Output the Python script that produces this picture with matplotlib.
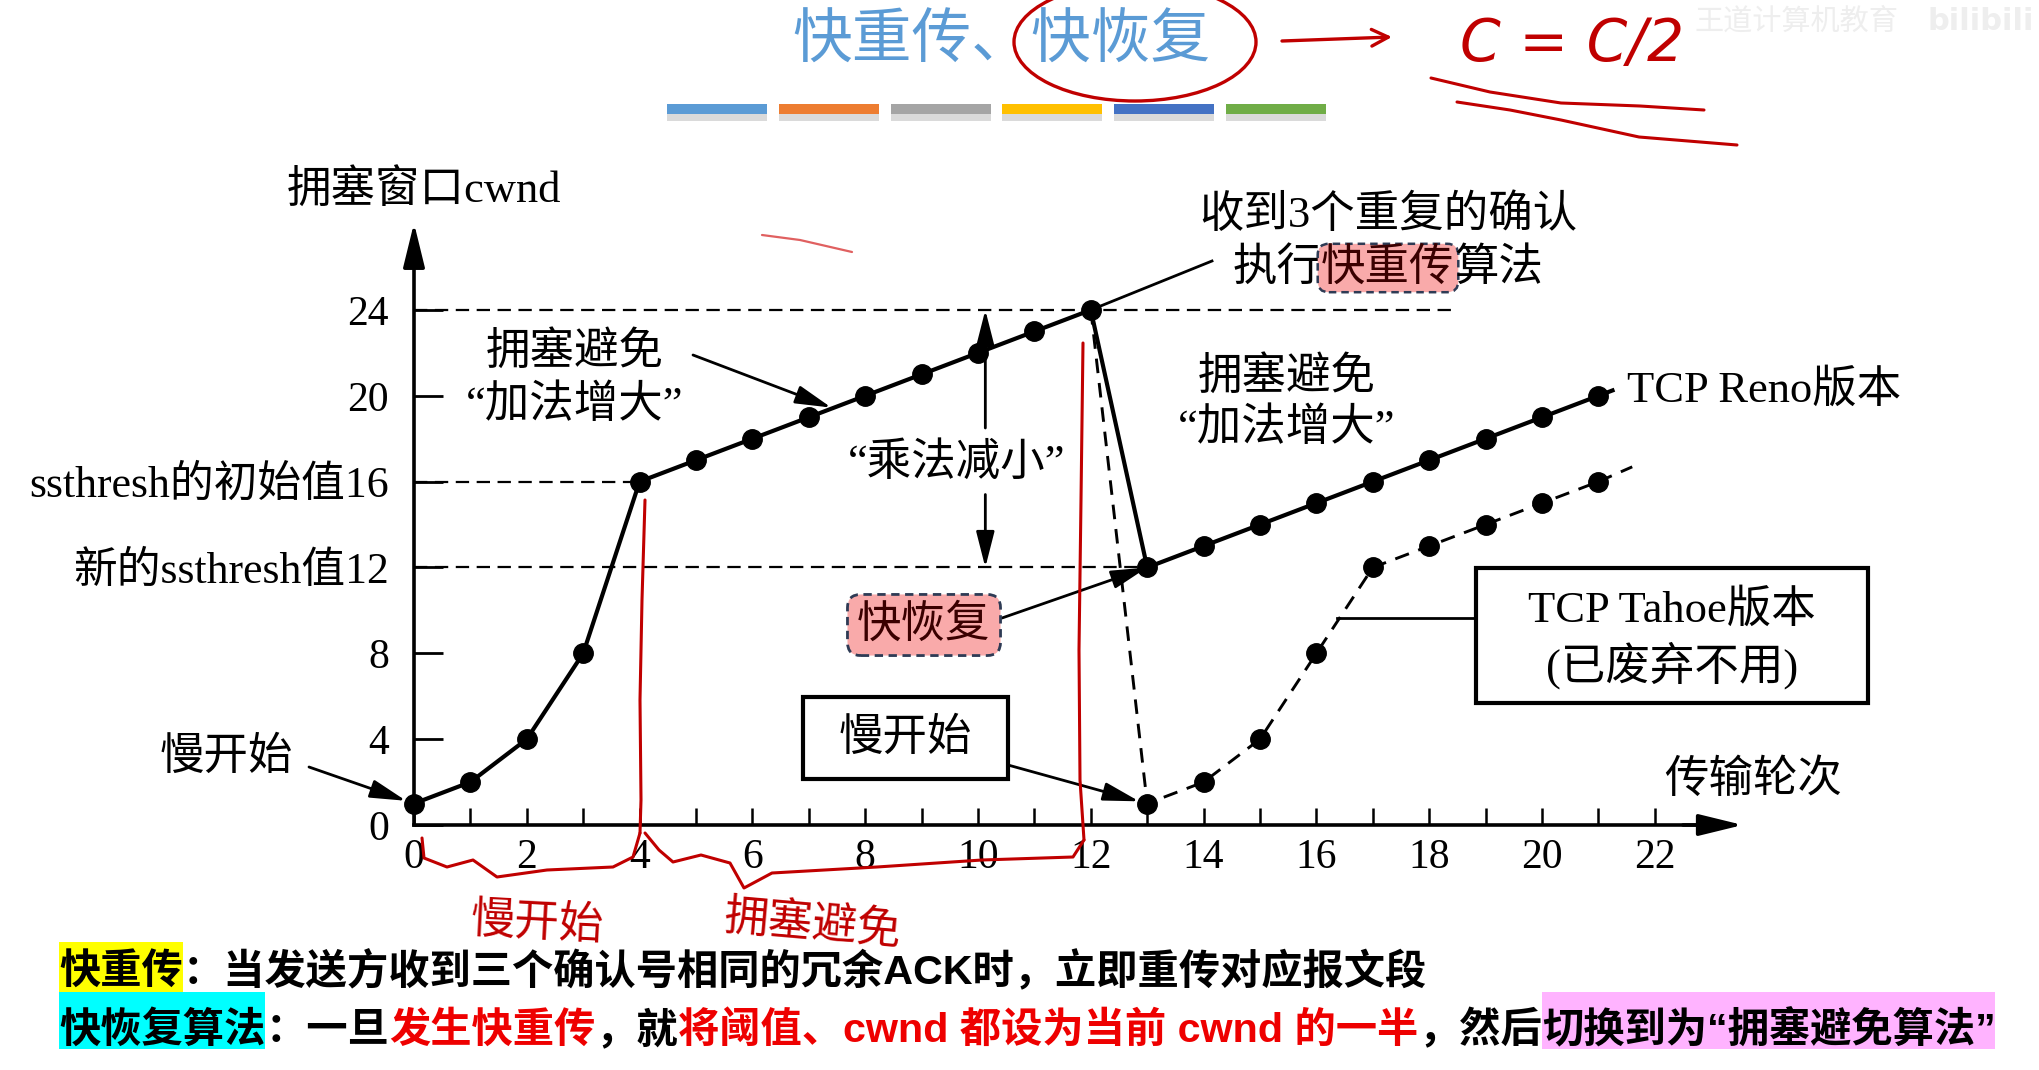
import matplotlib
matplotlib.use('Agg')
import matplotlib.pyplot as plt
from matplotlib.patches import Rectangle, Ellipse
import numpy as np

# ---------------- data ----------------
rounds_reno = list(range(22))
cwnd_reno = [1, 2, 4, 8, 16, 17, 18, 19, 20, 21, 22, 23, 24, 12, 13, 14, 15, 16, 17, 18, 19, 20]
rounds_tahoe = [12, 13, 14, 15, 16, 17, 18, 19, 20, 21]
cwnd_tahoe = [24, 1, 2, 4, 8, 12, 13, 14, 15, 16]
xtick_vals = list(range(0, 23))
xtick_labels = [str(v) if v % 2 == 0 else '' for v in xtick_vals]
ytick_vals = [0, 4, 8, 12, 16, 20, 24]
ytick_labels = ['0', '4', '8', '新的ssthresh值12', 'ssthresh的初始值16', '20', '24']
ssthresh_init = 16
ssthresh_new = 12
peak_cwnd = 24
title_text = '快重传、快恢复'
bar_colors = ['#5B9BD5', '#ED7D31', '#A5A5A5', '#FFC000', '#4472C4', '#70AD47']

line1_segments = [('快重传', '#000000', '#FFFF00'),
                  ('：当发送方收到三个确认号相同的冗余ACK时，立即重传对应报文段', '#000000', None)]
line2_segments = [('快恢复算法', '#000000', '#00FFFF'),
                  ('：一旦', '#000000', None),
                  ('发生快重传', '#EE0000', None),
                  ('，就', '#000000', None),
                  ('将阈值、cwnd 都设为当前 cwnd 的一半', '#EE0000', None),
                  ('，然后', '#000000', None),
                  ('切换到为“拥塞避免算法”', '#000000', '#FFB3FF')]

SERIF = ['Liberation Serif', 'Noto Sans CJK SC', 'DejaVu Sans']
SANS = ['Liberation Sans', 'Noto Sans CJK SC', 'DejaVu Sans']
plt.rcParams['font.family'] = SERIF

W, H = 2040, 1070
fig = plt.figure(figsize=(W / 100, H / 100), dpi=100)
ax = fig.add_axes([0, 0, 1, 1])

# pixel calibration of the chart
X0P, XS = 414.0, 56.4
Y0P, YS = 825.0, 21.46
ax.set_xlim(-X0P / XS, (W - X0P) / XS)
ax.set_ylim(-(H - Y0P) / YS, Y0P / YS)


def P(xp, yp):
    return ((xp - X0P) / XS, (Y0P - yp) / YS)


renderer = fig.canvas.get_renderer()

# ---------------- axes ----------------
for s in ['top', 'right']:
    ax.spines[s].set_visible(False)
ax.spines['left'].set_position(('data', 0))
ax.spines['bottom'].set_position(('data', 0))
ax.spines['left'].set_bounds(0, 27.0)
ax.spines['bottom'].set_bounds(0, 22.9)
ax.spines['left'].set_linewidth(2.6)
ax.spines['bottom'].set_linewidth(2.6)
ax.set_xticks(xtick_vals)
ax.set_xticklabels(xtick_labels, fontsize=30)
ax.set_yticks(ytick_vals)
ax.set_yticklabels(ytick_labels, fontsize=30)
ax.tick_params(axis='x', direction='in', length=12, width=1.8, pad=9.5)
ax.tick_params(axis='y', direction='in', length=21, width=2.0, pad=18)
for lab in ax.get_yticklabels()[3:5]:
    lab.set_fontsize(31.5)

arrow_head = dict(arrowstyle='-|>,head_length=1.35,head_width=0.33', color='black',
                  lw=2.6, mutation_scale=20, shrinkA=0, shrinkB=0)
ax.annotate('', xy=(0, 28.05), xytext=(0, 26.5), arrowprops=arrow_head)
ax.annotate('', xy=(23.56, 0), xytext=(22.5, 0), arrowprops=arrow_head)

ax.text(*P(424, 190), '拥塞窗口cwnd', fontsize=32, ha='center', va='center')
ax.text(*P(1753, 780), '传输轮次', fontsize=32, ha='center', va='center')

# ---------------- guide dashed lines ----------------
guide = dict(color='black', lw=1.6, linestyle=(0, (6.0, 3.4)), zorder=2)
ax.plot([0, 18.5], [peak_cwnd, peak_cwnd], **guide)
ax.plot([0, rounds_reno[cwnd_reno.index(ssthresh_init)]], [ssthresh_init, ssthresh_init], **guide)
ax.plot([0, rounds_reno[cwnd_reno.index(ssthresh_new)]], [ssthresh_new, ssthresh_new], **guide)

# ---------------- data lines ----------------
ax.plot(rounds_reno, cwnd_reno, '-', color='black', lw=3.0, zorder=4)
ax.plot([rounds_reno[-1], rounds_reno[-1] + 0.25],
        [cwnd_reno[-1], cwnd_reno[-1] + 0.25 * (cwnd_reno[-1] - cwnd_reno[-2])],
        '-', color='black', lw=3.0, zorder=4)
ax.plot(rounds_reno, cwnd_reno, 'o', color='black', ms=14, zorder=5)

tahoe_dash = dict(color='black', lw=2.1, linestyle=(0, (5.0, 3.4)), zorder=3)
ax.plot(rounds_tahoe, cwnd_tahoe, **tahoe_dash)
ax.plot([rounds_tahoe[-1], rounds_tahoe[-1] + 0.6],
        [cwnd_tahoe[-1], cwnd_tahoe[-1] + 0.6 * (cwnd_tahoe[-1] - cwnd_tahoe[-2]) * 1.15],
        **tahoe_dash)
ax.plot(rounds_tahoe[1:], cwnd_tahoe[1:], 'o', color='black', ms=14, zorder=5)

# ---------------- annotations ----------------
ann_arrow = dict(arrowstyle='-|>,head_length=1.1,head_width=0.28', color='black',
                 lw=2.0, mutation_scale=20, shrinkA=0, shrinkB=0)

# left "congestion avoidance"
ax.text(*P(575, 352), '拥塞避免', fontsize=32, ha='center', va='center')
ax.text(*P(575, 405), '“加法增大”', fontsize=32, ha='center', va='center')
ax.annotate('', xy=(7.4, 19.45), xytext=P(693, 355), arrowprops=ann_arrow)

# multiplicative decrease
xm = 10.13
ax.text(*P(957, 463), '“乘法减小”', fontsize=32, ha='center', va='center')
ax.annotate('', xy=(xm, peak_cwnd), xytext=(xm, 18.5), arrowprops=ann_arrow)
ax.annotate('', xy=(xm, ssthresh_new), xytext=(xm, 15.4), arrowprops=ann_arrow)

# 3 duplicate acks
ax.text(*P(1388, 215), '收到3个重复的确认', fontsize=32, ha='center', va='center')
ax.plot([12, P(1212, 261)[0]], [peak_cwnd, P(1212, 261)[1]], color='black', lw=2.0, zorder=3)
segs = [('执行', None), ('快重传', 'box'), ('算法', None)]
tmp = []
tot = 0
for s, b in segs:
    t = ax.text(0, 0, s, fontsize=32)
    w = t.get_window_extent(renderer).width
    tmp.append(w)
    tot += w
    t.remove()
xcur = 1388 - tot / 2
for (s, b), w in zip(segs, tmp):
    kw = {}
    if b:
        kw['bbox'] = dict(boxstyle='round,pad=0.08,rounding_size=0.25', fc='#F9AAAA',
                          ec='#2E3B55', ls=(0, (3, 2)), lw=1.8)
    ax.text(*P(xcur, 268), s, fontsize=32, ha='left', va='center',
            color='#3A0000' if b else 'black', **kw)
    xcur += w

# right congestion avoidance
ax.text(*P(1287, 377), '拥塞避免', fontsize=32, ha='center', va='center')
ax.text(*P(1287, 428), '“加法增大”', fontsize=32, ha='center', va='center')
ax.text(*P(1627, 390), 'TCP Reno版本', fontsize=32, ha='left', va='center')

# fast recovery
ax.text(*P(924, 625), '快恢复', fontsize=32, ha='center', va='center', color='#3A0000',
        bbox=dict(boxstyle='round,pad=0.22,rounding_size=0.3', fc='#F9AAAA',
                  ec='#2E3B55', ls=(0, (3, 2)), lw=2.0), zorder=6)
ax.annotate('', xy=(13, ssthresh_new), xytext=P(1002, 618), arrowprops=ann_arrow)

# slow start box
x0b, y0b = P(803, 779)
x1b, y1b = P(1008, 697)
ax.add_patch(Rectangle((x0b, y0b), x1b - x0b, y1b - y0b, fill=False, ec='black', lw=3.0, zorder=6))
ax.text(*P(905, 738), '慢开始', fontsize=32, ha='center', va='center')
ax.annotate('', xy=(13, 1), xytext=P(1008, 765), arrowprops=dict(ann_arrow, shrinkB=6))

# slow start left
ax.text(*P(226, 757), '慢开始', fontsize=32, ha='center', va='center')
ax.annotate('', xy=(0, 1), xytext=P(309, 767), arrowprops=dict(ann_arrow, shrinkB=6))

# Tahoe box
x0b, y0b = P(1476, 703)
x1b, y1b = P(1868, 568)
ax.add_patch(Rectangle((x0b, y0b), x1b - x0b, y1b - y0b, fill=False, ec='black', lw=3.0, zorder=6))
ax.text(*P(1672, 610), 'TCP Tahoe版本', fontsize=32, ha='center', va='center')
ax.text(*P(1672, 665), '(已废弃不用)', fontsize=32, ha='center', va='center')
ax.plot([P(1337, 618)[0], x0b], [P(1337, 618)[1]] * 2, color='black', lw=2.0)

# ---------------- title & colour bars ----------------
ax.text(*P(1001, 40), title_text, fontsize=43, ha='center', va='center', color='#5B9BD5',
        family=['Noto Sans CJK SC', 'DejaVu Sans'])
for i, c in enumerate(bar_colors):
    xs = 667 + i * 111.8
    a, b = P(xs, 121)
    a2, b2 = P(xs + 100, 114)
    ax.add_patch(Rectangle((a, b), a2 - a, b2 - b, fc='#DADADA', ec='none'))
    a, b = P(xs, 114)
    a2, b2 = P(xs + 100, 104)
    ax.add_patch(Rectangle((a, b), a2 - a, b2 - b, fc=c, ec='none'))

# faint watermark
ax.text(*P(1796, 22), '王道计算机教育', fontsize=21, ha='center', va='center', color='#EEEEEE',
        family=['Noto Sans CJK SC'])
ax.text(*P(2034, 22), 'bilibili', fontsize=22, ha='right', va='center', color='#EEEEEE',
        family=['DejaVu Sans'], fontweight='bold')


# ---------------- bottom explanation lines ----------------
def draw_line(segments, x0, yc, fs, target_w, bg_y):
    widths = []
    for s, col, bg in segments:
        t = ax.text(0, 0, s, fontsize=fs, fontweight='bold', family=SANS)
        widths.append(t.get_window_extent(renderer).width)
        t.remove()
    fs2 = fs * target_w / sum(widths)
    x = x0
    for s, col, bg in segments:
        t = ax.text(*P(x, yc), s, fontsize=fs2, fontweight='bold', family=SANS, color=col,
                    ha='left', va='center', zorder=7)
        w = t.get_window_extent(renderer).width
        if bg:
            a, b = P(x, bg_y[1])
            a2, b2 = P(x + w, bg_y[0])
            ax.add_patch(Rectangle((a, b), a2 - a, b2 - b, fc=bg, ec='none', zorder=6))
        x += w


draw_line(line1_segments, 59, 972, 30, 1366, (942, 992))
draw_line(line2_segments, 59, 1030, 30, 1938, (992, 1049))

# ---------------- handwritten red marks ----------------
RED = '#C00000'
hw = dict(color=RED, lw=2.2, zorder=8, solid_capstyle='round')


def stroke(pts, **kw):
    d = np.array([P(x, y) for x, y in pts])
    ax.plot(d[:, 0], d[:, 1], **dict(hw, **kw))


cx, cy = P(1135, 42)
ax.add_patch(Ellipse((cx, cy), 242 / XS, 118 / YS, angle=0, fill=False, ec=RED, lw=2.4, zorder=8))
ax.annotate('', xy=P(1392, 37), xytext=P(1282, 41),
            arrowprops=dict(arrowstyle='->,head_length=0.6,head_width=0.3', color=RED, lw=2.4,
                            mutation_scale=20, shrinkA=0, shrinkB=0))
ax.text(*P(1572, 45), 'C = C/2', fontsize=42, ha='center', va='center', color=RED,
        family=['DejaVu Sans'], style='italic', fontweight='light')
stroke([(1431, 78), (1490, 92), (1561, 103), (1640, 106), (1704, 110)])
stroke([(1457, 102), (1510, 110), (1561, 120), (1639, 137), (1737, 145)])
stroke([(762, 235), (800, 240), (852, 252)], lw=1.6, color='#E06060')

stroke([(645, 500), (642, 600), (640, 700), (641, 800), (640, 833)])
stroke([(1083, 343), (1081, 500), (1079, 650), (1080, 780), (1084, 840)])
stroke([(422, 838), (424, 858), (447, 867), (473, 860), (497, 877),
        (547, 870), (613, 867), (633, 857), (640, 833)])
stroke([(645, 833), (659, 850), (673, 862), (701, 855), (730, 863), (744, 888),
        (772, 873), (877, 867), (982, 860), (1073, 857), (1084, 840)])
ax.text(*P(537, 922), '慢开始', fontsize=32, ha='center', va='center', color=RED, zorder=8,
        family=['Noto Sans CJK SC'], rotation=-3)
ax.text(*P(813, 924), '拥塞避免', fontsize=32, ha='center', va='center', color=RED, zorder=8,
        family=['Noto Sans CJK SC'], rotation=-5)

fig.savefig('out.png', dpi=100)
